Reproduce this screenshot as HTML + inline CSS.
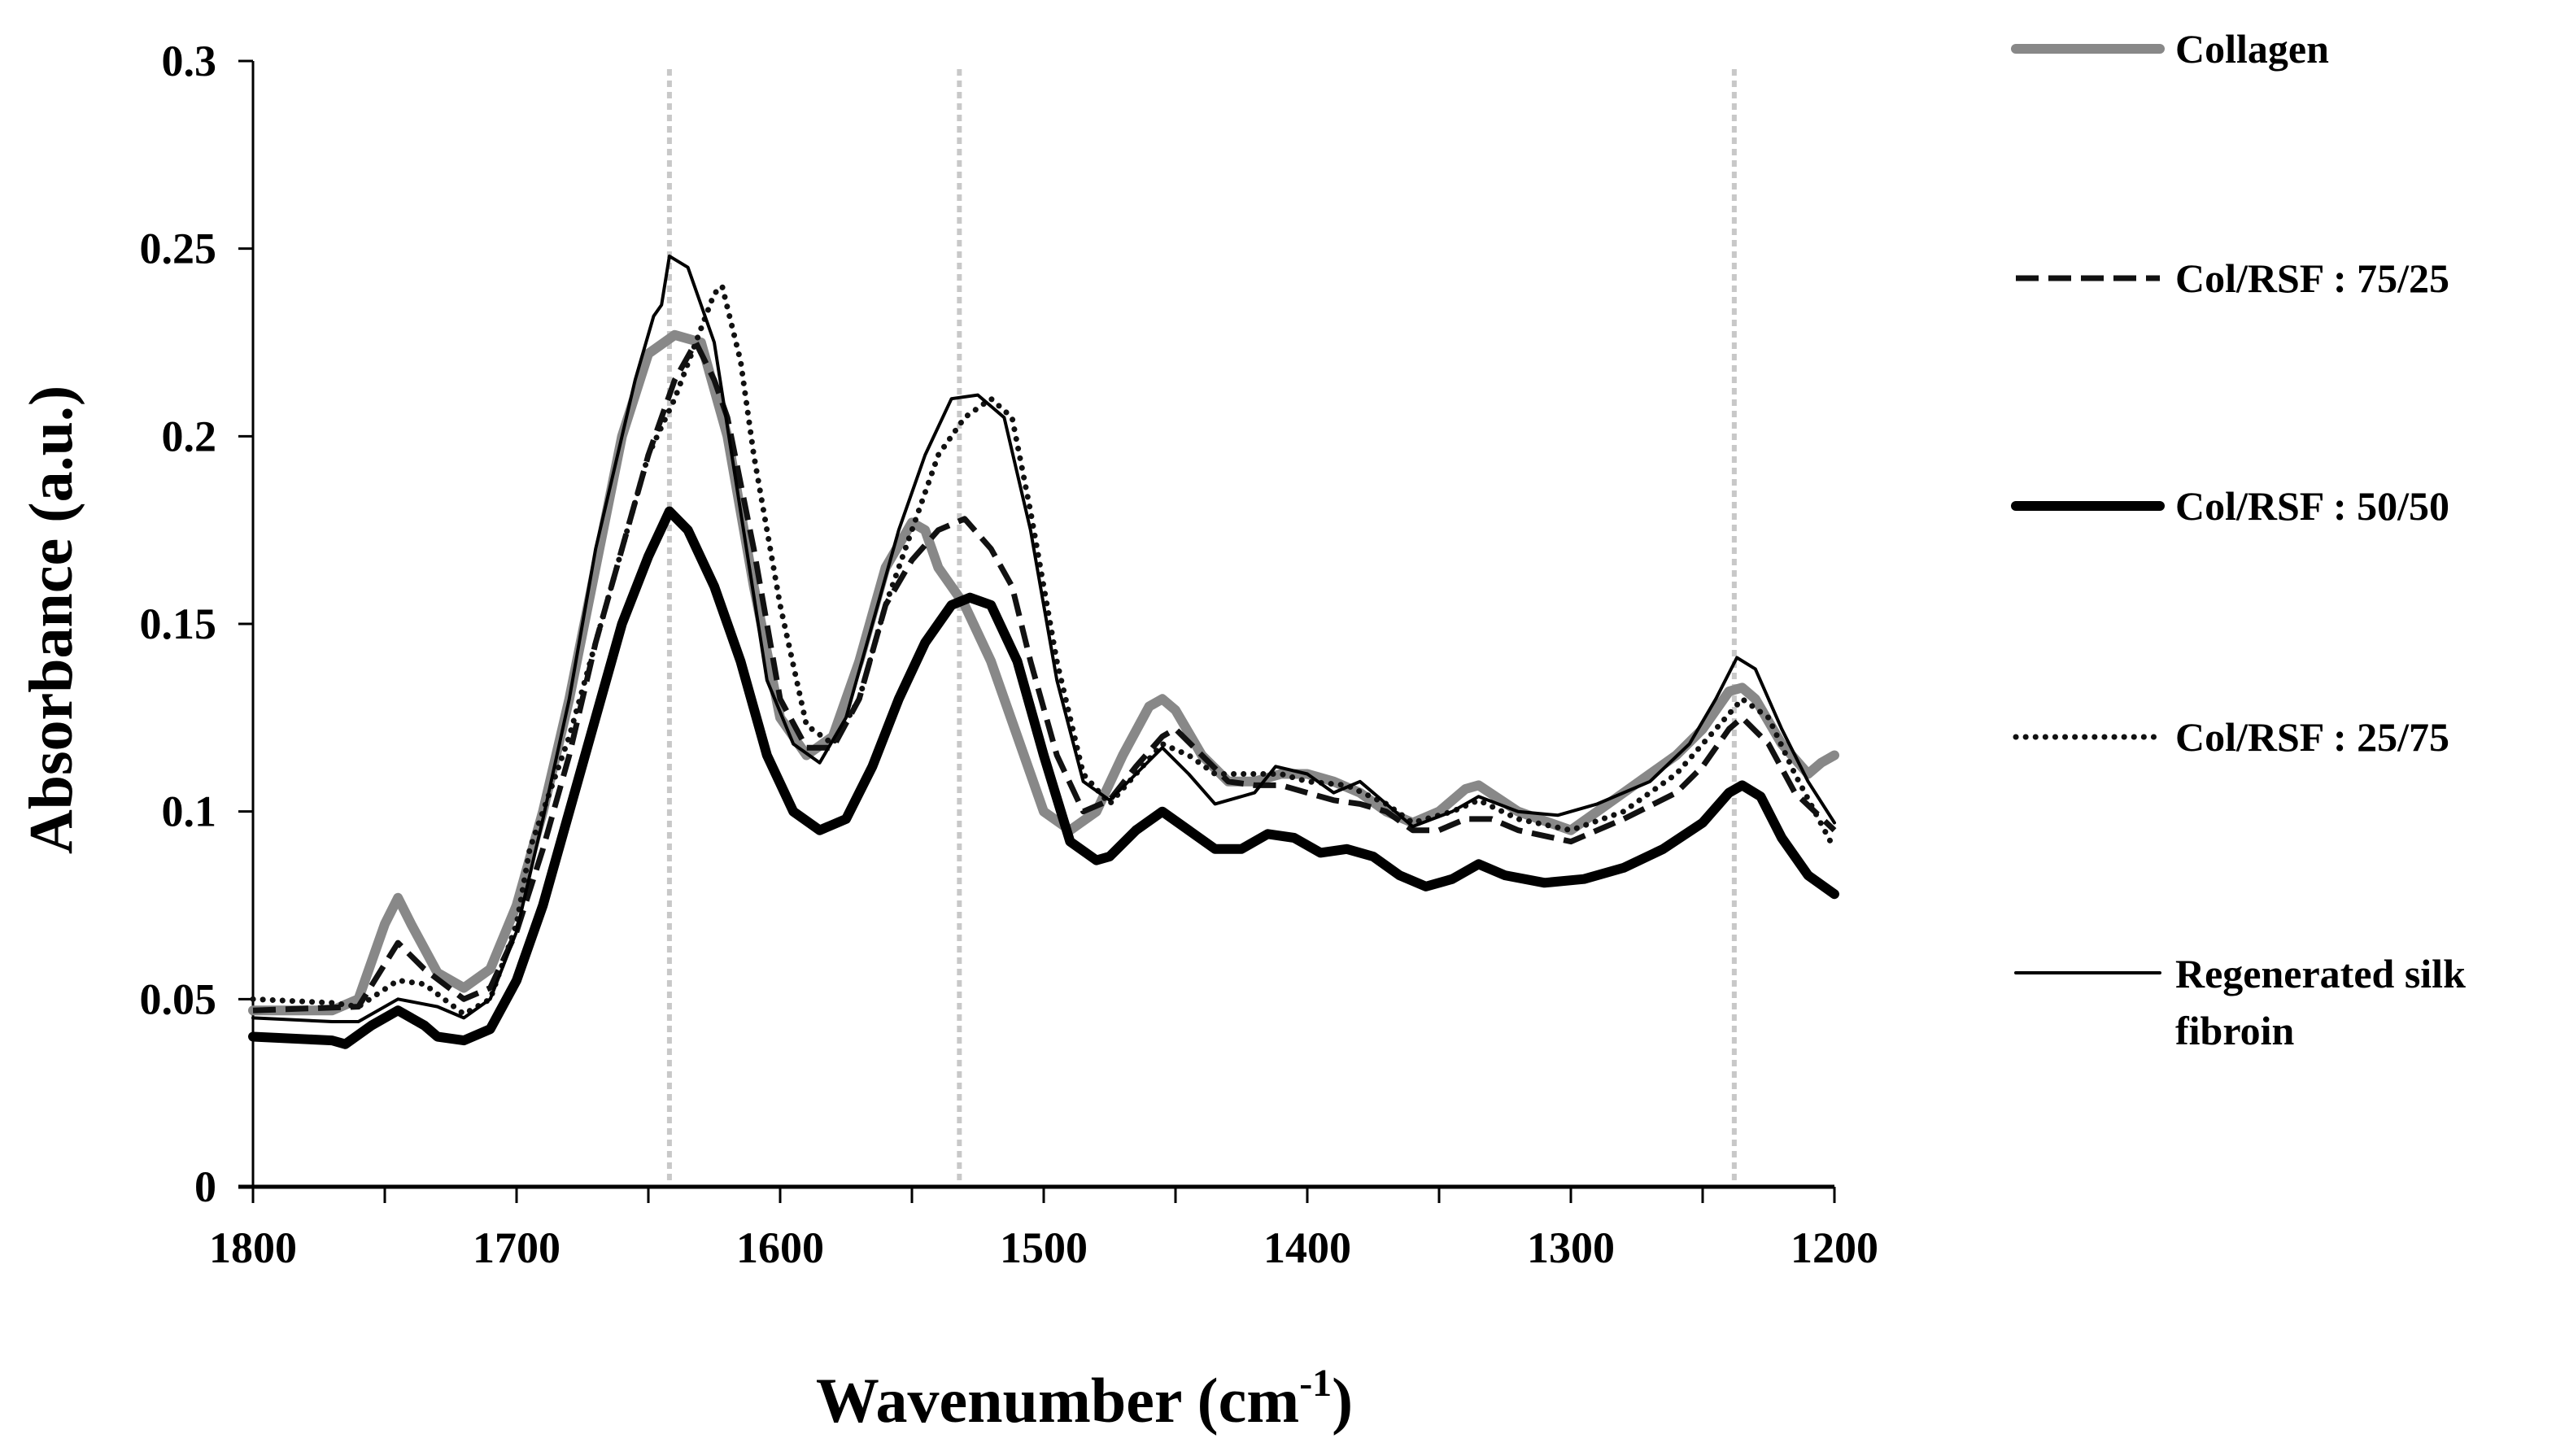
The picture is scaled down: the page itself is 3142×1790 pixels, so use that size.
<!DOCTYPE html>
<html><head><meta charset="utf-8"><style>
html,body{margin:0;padding:0;background:#fff;}
svg{display:block;font-family:"Liberation Serif",serif;font-weight:bold;}
</style></head><body>
<svg id="chart" width="3142" height="1790" viewBox="0 0 3142 1790" xmlns="http://www.w3.org/2000/svg">
<g id="refs"></g><g id="axes"></g><g id="series"></g><g id="legend"></g>
<text x="0" y="0" transform="translate(88,762) rotate(-90)" text-anchor="middle" font-size="76">Absorbance (a.u.)</text>
<text x="1333" y="1748" text-anchor="middle" font-size="78">Wavenumber (cm<tspan font-size="48" dy="-32">-1</tspan><tspan dy="32">)</tspan></text>
</svg>
<script>
const yTicks=[0,0.05,0.1,0.15,0.2,0.25,0.3];
const yTickLabels=["0","0.05","0.1","0.15","0.2","0.25","0.3"];
const xTicks=[1800,1700,1600,1500,1400,1300,1200];
const xTickLabels=["1800","1700","1600","1500","1400","1300","1200"];
const refLines=[1642,1532,1238];
const seriesNames=["Collagen","Col/RSF : 75/25","Col/RSF : 50/50","Col/RSF : 25/75","Regenerated silk fibroin"];
const collagenX=[1800,1770,1760,1750,1745,1740,1730,1720,1710,1700,1690,1680,1670,1660,1650,1640,1630,1620,1610,1600,1590,1580,1570,1560,1550,1545,1540,1530,1520,1510,1500,1490,1480,1470,1460,1455,1450,1440,1430,1420,1410,1400,1390,1380,1370,1360,1350,1340,1335,1320,1300,1290,1280,1270,1260,1250,1240,1235,1230,1220,1210,1205,1200];
const collagenY=[0.047,0.047,0.05,0.07,0.077,0.07,0.057,0.053,0.058,0.075,0.1,0.13,0.165,0.2,0.222,0.227,0.225,0.2,0.16,0.125,0.115,0.12,0.14,0.165,0.177,0.175,0.165,0.155,0.14,0.12,0.1,0.095,0.1,0.115,0.128,0.13,0.127,0.115,0.108,0.108,0.11,0.11,0.108,0.105,0.1,0.097,0.1,0.106,0.107,0.1,0.095,0.1,0.105,0.11,0.115,0.122,0.132,0.133,0.13,0.118,0.11,0.113,0.115];
const s7525X=[1800,1760,1745,1735,1720,1710,1700,1690,1680,1670,1660,1650,1640,1632,1625,1620,1610,1600,1590,1580,1570,1560,1550,1540,1530,1520,1512,1505,1495,1485,1475,1465,1455,1450,1440,1430,1420,1410,1400,1390,1380,1370,1360,1350,1340,1330,1320,1300,1280,1260,1250,1240,1235,1225,1215,1200];
const s7525Y=[0.047,0.048,0.065,0.058,0.05,0.053,0.068,0.09,0.115,0.145,0.17,0.195,0.215,0.225,0.215,0.205,0.17,0.13,0.117,0.117,0.13,0.155,0.167,0.175,0.178,0.17,0.16,0.14,0.115,0.1,0.103,0.112,0.12,0.122,0.115,0.108,0.107,0.107,0.105,0.103,0.102,0.1,0.095,0.095,0.098,0.098,0.095,0.092,0.098,0.105,0.112,0.122,0.125,0.118,0.105,0.095];
const s5050X=[1800,1770,1765,1755,1745,1735,1730,1720,1710,1700,1690,1680,1670,1660,1650,1642,1635,1625,1615,1605,1595,1585,1575,1565,1555,1545,1535,1528,1520,1510,1500,1490,1480,1475,1465,1455,1445,1435,1425,1415,1405,1395,1385,1375,1365,1355,1345,1335,1325,1310,1295,1280,1265,1250,1240,1235,1228,1220,1210,1200];
const s5050Y=[0.04,0.039,0.038,0.043,0.047,0.043,0.04,0.039,0.042,0.055,0.075,0.1,0.125,0.15,0.168,0.18,0.175,0.16,0.14,0.115,0.1,0.095,0.098,0.112,0.13,0.145,0.155,0.157,0.155,0.14,0.115,0.092,0.087,0.088,0.095,0.1,0.095,0.09,0.09,0.094,0.093,0.089,0.09,0.088,0.083,0.08,0.082,0.086,0.083,0.081,0.082,0.085,0.09,0.097,0.105,0.107,0.104,0.093,0.083,0.078];
const s2575X=[1800,1770,1760,1745,1735,1720,1710,1700,1695,1690,1680,1670,1660,1650,1640,1632,1625,1622,1615,1610,1600,1590,1580,1570,1560,1550,1540,1530,1520,1512,1505,1495,1485,1475,1465,1455,1445,1435,1425,1410,1400,1385,1370,1360,1345,1335,1320,1300,1280,1260,1245,1235,1225,1215,1200];
const s2575Y=[0.05,0.049,0.048,0.055,0.054,0.046,0.05,0.07,0.09,0.1,0.12,0.145,0.17,0.195,0.21,0.225,0.238,0.24,0.22,0.195,0.155,0.123,0.118,0.13,0.155,0.175,0.195,0.205,0.21,0.205,0.18,0.14,0.11,0.102,0.11,0.118,0.115,0.11,0.11,0.11,0.108,0.107,0.102,0.097,0.1,0.103,0.098,0.095,0.1,0.11,0.122,0.13,0.125,0.11,0.09];
const rsfX=[1800,1770,1760,1745,1730,1720,1710,1700,1690,1680,1670,1660,1655,1648,1645,1642,1635,1625,1615,1605,1595,1585,1575,1565,1555,1545,1535,1525,1515,1505,1495,1485,1475,1465,1455,1445,1435,1420,1412,1400,1390,1380,1370,1360,1345,1335,1320,1305,1290,1270,1255,1245,1237,1230,1220,1210,1200];
const rsfY=[0.045,0.044,0.044,0.05,0.048,0.045,0.05,0.068,0.098,0.13,0.17,0.2,0.215,0.232,0.235,0.248,0.245,0.225,0.18,0.135,0.118,0.113,0.125,0.15,0.175,0.195,0.21,0.211,0.205,0.175,0.135,0.108,0.103,0.11,0.117,0.11,0.102,0.105,0.112,0.11,0.105,0.108,0.102,0.096,0.1,0.104,0.1,0.099,0.102,0.108,0.118,0.13,0.141,0.138,0.122,0.108,0.097];

const NS="http://www.w3.org/2000/svg";
const X0=311,X1=2255,Y0=1459,Y1=75;
function sx(w){return X0+(1800-w)/600*(X1-X0);}
function sy(v){return Y0-v/0.3*(Y0-Y1);}
function mk(tag,attrs,parent){const e=document.createElementNS(NS,tag);for(const k in attrs)e.setAttribute(k,attrs[k]);parent.appendChild(e);return e;}
const refs=document.getElementById('refs'),axes=document.getElementById('axes'),ser=document.getElementById('series'),leg=document.getElementById('legend');

refLines.forEach(w=>{const l=mk('line',{x1:sx(w),x2:sx(w),y1:Y1+10,y2:Y0,stroke:'#c8c8c8','stroke-width':6,'stroke-dasharray':'8 6'},refs);

});

let a=mk('line',{x1:X0,x2:X0,y1:Y1,y2:Y0,stroke:'#000','stroke-width':3},axes);


a=mk('line',{x1:X0-18,x2:X1,y1:Y0,y2:Y0,stroke:'#000','stroke-width':5},axes);


yTicks.forEach((v,i)=>{mk('line',{x1:X0-18,x2:X0,y1:sy(v),y2:sy(v),stroke:'#000','stroke-width':3},axes);
const t=mk('text',{x:266,y:sy(v)+18,'text-anchor':'end','font-size':54},axes);t.textContent=yTickLabels[i];

});
for(let w=1800;w>=1200;w-=50){mk('line',{x1:sx(w),x2:sx(w),y1:Y0,y2:Y0+20,stroke:'#000','stroke-width':3},axes);}
xTicks.forEach((w,i)=>{const t=mk('text',{x:sx(w),y:1552,'text-anchor':'middle','font-size':54},axes);t.textContent=xTickLabels[i];

});

const styles=[
 {xs:collagenX,ys:collagenY,stroke:'#888',w:12,dash:null,cap:'round'},
 {xs:s7525X,ys:s7525Y,stroke:'#111',w:7,dash:'28 12',cap:'butt'},
 {xs:s5050X,ys:s5050Y,stroke:'#000',w:12,dash:null,cap:'round'},
 {xs:s2575X,ys:s2575Y,stroke:'#111',w:7,dash:'0.1 12',cap:'round'},
 {xs:rsfX,ys:rsfY,stroke:'#000',w:4,dash:null,cap:'round'}];
const legY=[60,342,622,906,1196];
styles.forEach((s,i)=>{
 let d=s.xs.map((w,j)=>(j?'L':'M')+sx(w).toFixed(1)+' '+sy(s.ys[j]).toFixed(1)).join(' ');
 const p=mk('path',{d:d,fill:'none',stroke:s.stroke,'stroke-width':s.w,'stroke-linejoin':'round','stroke-linecap':s.cap},ser);
 if(s.dash)p.setAttribute('stroke-dasharray',s.dash);
 
 
 const l=mk('line',{x1:2478,x2:2655,y1:legY[i],y2:legY[i],stroke:s.stroke,'stroke-width':s.w,'stroke-linecap':s.cap},leg);
 if(s.dash)l.setAttribute('stroke-dasharray',s.dash);
 
 
});
const lt=[[0,'Collagen'],[1,'Col/RSF : 75/25'],[2,'Col/RSF : 50/50'],[3,'Col/RSF : 25/75']];
lt.forEach(([i,s])=>{const t=mk('text',{x:2674,y:legY[i]+17,'font-size':50},leg);t.textContent=s;

});
let t=mk('text',{x:2674,y:1214,'font-size':50},leg);t.textContent='Regenerated silk';


t=mk('text',{x:2674,y:1284,'font-size':50},leg);t.textContent='fibroin';


</script>
</body></html>
